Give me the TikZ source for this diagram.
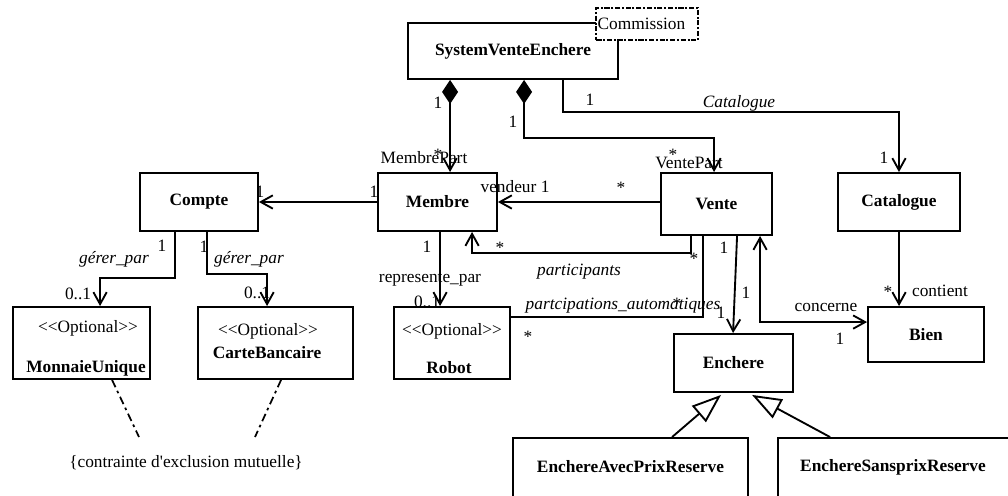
\documentclass[tikz,border=0pt]{standalone}
\usepackage{fontspec}
\setmainfont{Liberation Serif}[Ligatures=TeXOff]
\usetikzlibrary{arrows.meta,calc,positioning}
\newcommand\taille{\fontsize{13}{15.6}\selectfont}
\tikzset{
  classe/.style={draw, line width=1.4pt, inner sep=0pt, fill=white, font=\taille\bfseries},
  etiq/.style={inner sep=0pt, font=\taille},
  role/.style={inner sep=0pt, font=\taille\itshape},
  lien/.style={line width=1.4pt},
  assoc/.style={lien, -{Straight Barb[length=9pt,width=10pt]}},
  biassoc/.style={lien, {Straight Barb[length=9pt,width=10pt]}-{Straight Barb[length=9pt,width=10pt]}},
  compo/.style={lien, {Diamond[length=18pt,width=12pt]}-{Straight Barb[length=9pt,width=10pt]}},
  herit/.style={lien, -{Triangle[open,length=22pt,width=16pt,fill=white]}},
  contrainte/.style={line width=1.3pt, dash pattern=on 6pt off 3pt on 2pt off 3pt}
}

\begin{document}
\begin{tikzpicture}[x=0.75pt,y=-0.75pt]
\useasboundingbox (0,0) rectangle (1008,496);

% classes
\node[classe, minimum width=157.5pt, minimum height=42pt] (sys) at (513,51) {SystemVenteEnchere};
\node[classe, font=\taille, draw=black, dash pattern=on 4pt off 1.2pt on 1.5pt off 1.2pt, line width=1.4pt,
      text width=74pt, align=left, minimum height=24pt, inner xsep=1pt] (comm) at (647,24) {Commission};
\node[classe, minimum width=88.5pt, minimum height=43.5pt] (compte) at (199,202) {Compte};
\node[classe, minimum width=89.25pt, minimum height=43.5pt] (membre) at (437.5,202) {Membre};
\node[classe, minimum width=83.25pt, minimum height=46.5pt] (vente) at (716.5,204) {Vente};
\node[classe, minimum width=91.5pt, minimum height=43.5pt] (catalogue) at (899,202) {Catalogue};
\node[classe, minimum width=102.75pt, minimum height=54pt] (monnaie) at (81.5,343) {};
\node[classe, minimum width=116.25pt, minimum height=54pt] (carte) at (275.5,343) {};
\node[classe, minimum width=87pt, minimum height=54pt] (robot) at (452,343) {};
\node[classe, minimum width=87pt, minimum height=41.25pt] (bien) at (926,334.5) {Bien};
\node[classe, minimum width=89.25pt, minimum height=43.5pt] (enchere) at (733.5,363) {Enchere};
\node[classe, minimum width=176.25pt, minimum height=46.5pt] (avec) at (630.5,469) {};
\node[classe, minimum width=175.5pt, minimum height=46.5pt] (sans) at (895,469) {};
\node[etiq, font=\taille\bfseries] (avecnom) at (630.5,467) {EnchereAvecPrixReserve};
\node[etiq, font=\taille\bfseries] (sansnom) at (893,467) {EnchereSansprixReserve};

% stereotypes
\node[etiq] (st1) at (88,328) {<\kern0pt<Optional>\kern0pt>};
\node[etiq, font=\taille\bfseries] (monnaienom) at (86,368) {MonnaieUnique};
\node[etiq] (st2) at (268,331.5) {<\kern0pt<Optional>\kern0pt>};
\node[etiq, font=\taille\bfseries] (cartenom) at (267,352.5) {CarteBancaire};
\node[etiq] (st3) at (452,331.5) {<\kern0pt<Optional>\kern0pt>};
\node[etiq, font=\taille\bfseries] (robotnom) at (449,368) {Robot};

% associations
\draw[compo] ($(sys.south west)+(43,0)$) coordinate (cm) -- (cm |- membre.north);
\draw[compo] ($(sys.south west)+(117,0)$) -- ++(0,58) -| ($(vente.north west)+(54,0)$);
\draw[assoc] ($(sys.south west)+(156,0)$) -- ++(0,32) -| (catalogue.north);
\draw[assoc] (membre.west) -- (compte.east);
\draw[assoc] (vente.west |- membre.east) -- (membre.east);
\draw[assoc] ($(vente.south west)+(31,0)$) -- ++(0,17) -| ($(membre.south west)+(95,0)$);
\draw[lien] ($(vente.south west)+(43,0)$) |- ($(robot.north east)+(0,11)$);
\draw[assoc] ($(vente.south west)+(77,0)$) -- ($(enchere.north west)+(60,0)$);
\draw[biassoc] ($(bien.north west)+(0,16)$) -| ($(vente.south west)+(100,0)$);
\draw[assoc] (catalogue.south) -- ($(bien.north west)+(32,0)$);
\draw[assoc] ($(compte.south west)+(36,0)$) -- ++(0,46) -| ($(monnaie.north west)+(88,0)$);
\draw[assoc] ($(compte.south west)+(68,0)$) -- ++(0,42) -| ($(carte.north west)+(70,0)$);
\draw[assoc] ($(membre.south west)+(63,0)$) -- ($(robot.north west)+(47,0)$);
\draw[herit] ($(avec.north west)+(160,0)$) -- ($(enchere.south west)+(48,2)$);
\draw[herit] ($(sans.north west)+(53,0)$) -- ($(enchere.south west)+(79,2)$);

% contrainte
\node[etiq] (note) at (186,463) {\{contrainte d'exclusion mutuelle\}};
\coordinate (n1) at (139,437);
\coordinate (n2) at (255,437);
\draw[contrainte] ($(monnaie.south west)+(100,0)$) -- (n1);
\draw[contrainte] ($(carte.south west)+(84,0)$) -- (n2);

% multiplicites et roles
\node[etiq] (m1) at (438,103) {1};
\node[etiq] (m2) at (438,155) {*};
\node[etiq] (r1) at (424,158) {MembrePart};
\node[etiq] (m3) at (513,122) {1};
\node[etiq] (m4) at (673,155) {*};
\node[etiq] (r2) at (689,163) {VentePart};
\node[etiq] (m5) at (590,100) {1};
\node[role] (r3) at (739,103) {Catalogue};
\node[etiq] (m6) at (884,158) {1};
\node[etiq] (m7) at (260,192) {1};
\node[etiq] (m8) at (374,192) {1};
\node[etiq] (r4) at (515,187) {vendeur 1};
\node[etiq] (m9) at (621,188) {*};
\node[etiq] (m10) at (500,248) {*};
\node[etiq] (m11) at (694,259) {*};
\node[role] (r5) at (579,272) {participants};
\node[etiq] (m12) at (427,247) {1};
\node[etiq] (r6) at (430,279) {represente\_par};
\node[etiq] (m13) at (427,302) {0..1};
\node[etiq] (m14) at (162,246) {1};
\node[role] (r7) at (114,259) {gérer\_par};
\node[etiq] (m15) at (78,294) {0..1};
\node[etiq] (m16) at (204,247) {1};
\node[role] (r8) at (249,259) {gérer\_par};
\node[etiq] (m17) at (257,293) {0..1};
\node[role] (r9) at (623,306) {partcipations\_automatiques};
\node[etiq] (m18) at (677,304) {*};
\node[etiq] (m19) at (721,313) {1};
\node[etiq] (m20) at (724,248) {1};
\node[etiq] (m21) at (746,293) {1};
\node[etiq] (m22) at (528,337) {*};
\node[etiq] (r10) at (826,307) {concerne};
\node[etiq] (m23) at (840,339) {1};
\node[etiq] (m24) at (888,292) {*};
\node[etiq] (r11) at (940,291) {contient};

\end{tikzpicture}
\end{document}
